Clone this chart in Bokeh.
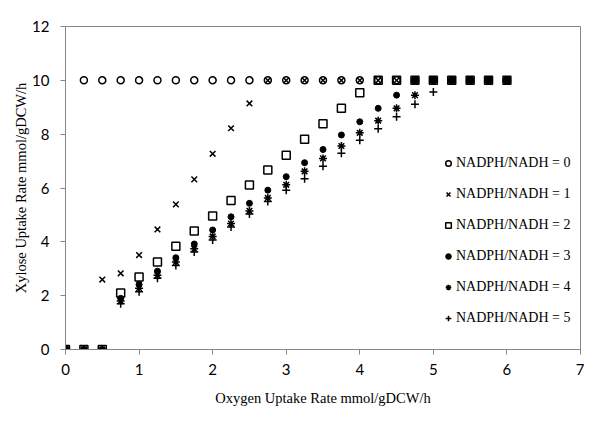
from bokeh.plotting import figure
from bokeh.models import Range1d, FixedTicker, Legend, LegendItem
from bokeh.embed import file_html
from bokeh.resources import INLINE

# Oxygen uptake rate (x), 0..6 step 0.25
oxygen = [0, 0.25, 0.5, 0.75, 1.0, 1.25, 1.5, 1.75, 2.0, 2.25, 2.5, 2.75, 3.0,
          3.25, 3.5, 3.75, 4.0, 4.25, 4.5, 4.75, 5.0, 5.25, 5.5, 5.75, 6.0]

ratio0 = [0] + [10] * 24
ratio1 = [0, 0, 2.6, 2.83, 3.51, 4.46, 5.39, 6.32, 7.27, 8.22, 9.14] + [10] * 14
ratio2 = [0, 0, 0, 2.1, 2.69, 3.25, 3.84, 4.4, 4.96, 5.54, 6.11, 6.67, 7.22,
          7.81, 8.39, 8.96, 9.54] + [10] * 8
ratio3 = [0, 0, 0, 1.9, 2.42, 2.91, 3.41, 3.92, 4.44, 4.93, 5.43, 5.92, 6.42,
          6.94, 7.43, 7.97, 8.46, 8.96, 9.45] + [10] * 6
ratio4 = [0, 0, 0, 1.8, 2.28, 2.76, 3.25, 3.74, 4.2, 4.68, 5.15, 5.63, 6.12,
          6.62, 7.1, 7.56, 8.05, 8.5, 8.96, 9.45] + [10] * 5
ratio5 = [0, 0, 0, 1.7, 2.15, 2.65, 3.12, 3.62, 4.07, 4.55, 5.03, 5.5, 5.92,
          6.34, 6.81, 7.29, 7.77, 8.2, 8.65, 9.11, 9.57] + [10] * 4

labels = ["NADPH/NADH = 0", "NADPH/NADH = 1", "NADPH/NADH = 2",
          "NADPH/NADH = 3", "NADPH/NADH = 4", "NADPH/NADH = 5"]
x_ticks = [0, 1, 2, 3, 4, 5, 6, 7]
y_ticks = [0, 2, 4, 6, 8, 10, 12]

p = figure(width=584, height=408, output_backend="svg", toolbar_location=None,
           x_range=Range1d(0, 7), y_range=Range1d(0, 12),
           min_border_left=65, min_border_right=4, min_border_top=26,
           min_border_bottom=58)

p.xgrid.visible = False
p.ygrid.visible = False
p.outline_line_color = "#868686"
p.outline_line_width = 1

for ax in (p.xaxis[0], p.yaxis[0]):
    ax.axis_line_color = "#868686"
    ax.major_tick_line_color = "#868686"
    ax.minor_tick_line_color = None
    ax.major_tick_out = 5
    ax.major_tick_in = 0
    ax.major_label_text_font = "Lato"
    ax.major_label_text_font_size = "15px"
    ax.major_label_text_color = "#000000"
    ax.axis_label_text_font = "Liberation Serif"
    ax.axis_label_text_font_style = "normal"
    ax.axis_label_text_font_size = "14.5px"
    ax.axis_label_text_color = "#000000"

p.xaxis.ticker = FixedTicker(ticks=x_ticks)
p.yaxis.ticker = FixedTicker(ticks=y_ticks)
p.xaxis.axis_label = "Oxygen Uptake Rate mmol/gDCW/h"
p.yaxis.axis_label = "Xylose Uptake Rate mmol/gDCW/h"
p.xaxis.major_label_standoff = 9
p.yaxis.major_label_standoff = 11
p.xaxis.axis_label_standoff = 12
p.yaxis.axis_label_standoff = 0

r0 = p.scatter(oxygen, ratio0, marker="circle", size=7, fill_color=None,
               line_color="black", line_width=1.5)
r1 = p.scatter(oxygen, ratio1, marker="x", size=8, line_color="black",
               line_width=1.5)
r2 = p.scatter(oxygen, ratio2, marker="square", size=8, fill_color=None,
               line_color="black", line_width=1.5)
r3 = p.scatter(oxygen, ratio3, marker="circle", size=6, fill_color="black",
               line_color="black")
r4 = p.scatter(oxygen, ratio4, marker="asterisk", size=8, line_color="black",
               line_width=1.5)
r5 = p.scatter(oxygen, ratio5, marker="cross", size=8, line_color="black",
               line_width=1.5)

legend = Legend(items=[LegendItem(label=l, renderers=[r])
                       for l, r in zip(labels, [r0, r1, r2, r3, r4, r5])],
                location=(376, 21), orientation="vertical",
                glyph_width=14, glyph_height=20, label_height=20,
                spacing=11, padding=0, margin=0, label_standoff=1,
                label_text_font="Liberation Serif", label_text_font_size="14px",
                label_text_color="#000000",
                background_fill_alpha=0, border_line_color=None)
p.add_layout(legend)

open("out.html", "w").write(file_html(p, INLINE))
